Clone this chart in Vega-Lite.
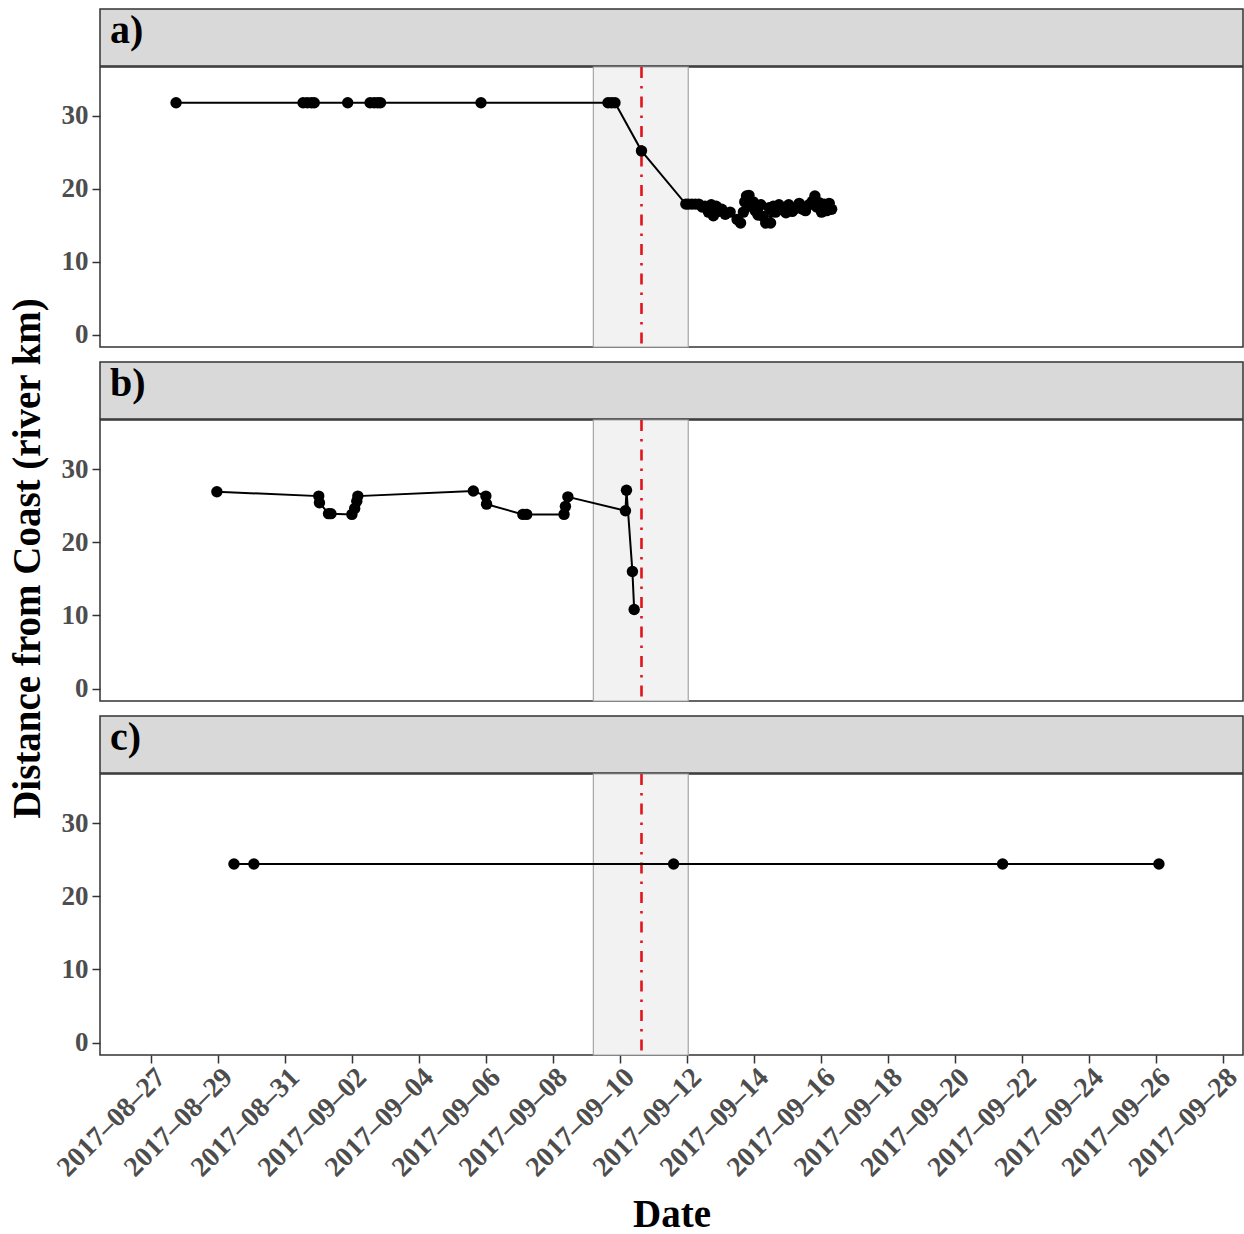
{
  "$schema": "https://vega.github.io/schema/vega-lite/v6.json",
  "padding": {"left": 8, "top": 8, "right": 4, "bottom": 0},
  "spacing": 0,
  "config": {
    "font": "Liberation Serif",
    "view": {"stroke": "#333333", "strokeWidth": 1.5},
    "axis": {"grid": false, "domain": false, "tickColor": "#333333", "tickWidth": 1.5, "tickSize": 8,
      "labelFont": "Liberation Serif", "labelFontWeight": "bold", "labelFontSize": 27, "labelColor": "#4d4d4d", "labelPadding": 4,
      "titleFont": "Liberation Serif", "titleFontWeight": "bold", "titleFontSize": 39, "titleColor": "#000000"},
    "title": {"font": "Liberation Serif", "fontWeight": "bold", "fontSize": 40, "color": "#000000", "anchor": "start", "offset": -42, "dx": 10, "baseline": "alphabetic"}
  },
  "datasets": {
    "storm": [{"start": "2017-09-09T05:00:00", "end": "2017-09-12T01:00:00", "landfall": "2017-09-10T15:30:00"}],
    "pa": [
      {"t":"2017-08-27T18:00:00","km":31.8},
      {"t":"2017-08-31T13:00:00","km":31.8},
      {"t":"2017-08-31T16:00:00","km":31.8},
      {"t":"2017-08-31T19:00:00","km":31.8},
      {"t":"2017-08-31T21:00:00","km":31.8},
      {"t":"2017-09-01T21:00:00","km":31.8},
      {"t":"2017-09-02T13:00:00","km":31.8},
      {"t":"2017-09-02T16:00:00","km":31.8},
      {"t":"2017-09-02T18:30:00","km":31.8},
      {"t":"2017-09-02T20:30:00","km":31.8},
      {"t":"2017-09-05T20:30:00","km":31.8},
      {"t":"2017-09-09T15:30:00","km":31.8},
      {"t":"2017-09-09T18:00:00","km":31.8},
      {"t":"2017-09-09T20:30:00","km":31.8},
      {"t":"2017-09-10T15:30:00","km":25.2},
      {"t":"2017-09-11T23:15:00","km":17.9},
      {"t":"2017-09-12T01:00:00","km":17.9},
      {"t":"2017-09-12T03:30:00","km":17.9},
      {"t":"2017-09-12T06:00:00","km":17.9},
      {"t":"2017-09-12T08:30:00","km":17.9},
      {"t":"2017-09-12T11:00:00","km":17.5},
      {"t":"2017-09-12T13:00:00","km":17.6},
      {"t":"2017-09-12T15:30:00","km":16.8},
      {"t":"2017-09-12T17:30:00","km":17.8},
      {"t":"2017-09-12T19:00:00","km":16.3},
      {"t":"2017-09-12T21:00:00","km":17.6},
      {"t":"2017-09-12T23:00:00","km":16.9},
      {"t":"2017-09-13T01:00:00","km":17.2},
      {"t":"2017-09-13T03:30:00","km":16.5},
      {"t":"2017-09-13T07:00:00","km":16.8},
      {"t":"2017-09-13T12:00:00","km":15.8},
      {"t":"2017-09-13T14:30:00","km":15.3},
      {"t":"2017-09-13T16:30:00","km":16.8},
      {"t":"2017-09-13T17:30:00","km":18.2},
      {"t":"2017-09-13T18:45:00","km":19.0},
      {"t":"2017-09-13T20:30:00","km":19.1},
      {"t":"2017-09-13T21:30:00","km":17.6},
      {"t":"2017-09-13T23:30:00","km":18.2},
      {"t":"2017-09-14T01:00:00","km":17.0},
      {"t":"2017-09-14T03:00:00","km":16.4},
      {"t":"2017-09-14T05:00:00","km":17.8},
      {"t":"2017-09-14T06:45:00","km":16.2},
      {"t":"2017-09-14T08:30:00","km":15.3},
      {"t":"2017-09-14T11:00:00","km":17.4},
      {"t":"2017-09-14T12:00:00","km":15.3},
      {"t":"2017-09-14T14:00:00","km":17.6},
      {"t":"2017-09-14T15:30:00","km":16.8},
      {"t":"2017-09-14T18:00:00","km":17.8},
      {"t":"2017-09-14T20:30:00","km":17.1},
      {"t":"2017-09-14T23:00:00","km":16.7},
      {"t":"2017-09-15T01:00:00","km":17.8},
      {"t":"2017-09-15T03:30:00","km":16.9},
      {"t":"2017-09-15T06:00:00","km":17.3},
      {"t":"2017-09-15T08:30:00","km":18.0},
      {"t":"2017-09-15T11:00:00","km":17.2},
      {"t":"2017-09-15T13:00:00","km":17.0},
      {"t":"2017-09-15T15:30:00","km":17.8},
      {"t":"2017-09-15T18:00:00","km":18.3},
      {"t":"2017-09-15T19:45:00","km":19.0},
      {"t":"2017-09-15T21:00:00","km":17.5},
      {"t":"2017-09-15T22:45:00","km":18.1},
      {"t":"2017-09-16T00:30:00","km":16.8},
      {"t":"2017-09-16T02:30:00","km":17.9},
      {"t":"2017-09-16T04:15:00","km":17.0},
      {"t":"2017-09-16T06:00:00","km":18.0},
      {"t":"2017-09-16T07:45:00","km":17.2}
    ],
    "pb": [
      {"t":"2017-08-28T23:15:00","km":26.9},
      {"t":"2017-09-01T00:15:00","km":26.3},
      {"t":"2017-09-01T00:45:00","km":25.4},
      {"t":"2017-09-01T07:15:00","km":23.9},
      {"t":"2017-09-01T09:00:00","km":23.9},
      {"t":"2017-09-02T00:00:00","km":23.8},
      {"t":"2017-09-02T02:00:00","km":24.6},
      {"t":"2017-09-02T03:30:00","km":25.6},
      {"t":"2017-09-02T04:15:00","km":26.3},
      {"t":"2017-09-05T15:00:00","km":27.0},
      {"t":"2017-09-06T00:00:00","km":26.3},
      {"t":"2017-09-06T00:30:00","km":25.2},
      {"t":"2017-09-07T02:30:00","km":23.8},
      {"t":"2017-09-07T05:15:00","km":23.8},
      {"t":"2017-09-08T08:00:00","km":23.8},
      {"t":"2017-09-08T09:00:00","km":24.9},
      {"t":"2017-09-08T10:45:00","km":26.2},
      {"t":"2017-09-10T04:00:00","km":24.3},
      {"t":"2017-09-10T04:45:00","km":27.1},
      {"t":"2017-09-10T09:00:00","km":16.0},
      {"t":"2017-09-10T10:15:00","km":10.8}
    ],
    "pc": [
      {"t":"2017-08-29T11:30:00","km":24.4},
      {"t":"2017-08-30T01:45:00","km":24.4},
      {"t":"2017-09-11T14:30:00","km":24.4},
      {"t":"2017-09-21T10:15:00","km":24.4},
      {"t":"2017-09-26T02:15:00","km":24.4}
    ]
  },
  "hconcat": [
    {"width": 1, "height": 1098, "view": {"stroke": null},
     "data": {"values": [{"v": 0}]},
     "mark": {"type": "point", "opacity": 0},
     "encoding": {"y": {"field": "v", "type": "quantitative", "axis": {"title": "Distance from Coast (river km)", "labels": false, "ticks": false, "domain": false, "titlePadding": 0}}}},
    {
      "spacing": 11,
      "vconcat": [
        {
          "spacing": -3,
          "vconcat": [
            {"width": 1143, "height": 57, "title": "a)", "view": {"fill": "#d9d9d9", "stroke": "#333333", "strokeWidth": 1.5}, "data": {"values": [{}]},
             "mark": {"type": "rect", "opacity": 0}},
            {"width": 1143, "height": 280,
             "layer": [
               {"data": {"name": "storm"}, "mark": {"type": "rect", "fill": "#f2f2f2", "stroke": "#a6a6a6", "strokeWidth": 1.2},
                "encoding": {"x": {"field": "start", "type": "temporal", "scale": {"domain": [{"year":2017,"month":8,"date":25,"hours":11,"minutes":30},{"year":2017,"month":9,"date":28,"hours":14,"minutes":30}]}, "axis": null}, "x2": {"field": "end"}}},
               {"data": {"name": "storm"}, "mark": {"type": "rule", "color": "#e0141e", "strokeWidth": 2.6, "strokeDash": [11, 8, 2.5, 8]},
                "encoding": {"x": {"field": "landfall", "type": "temporal"}}},
               {"data": {"name": "pa"}, "mark": {"type": "line", "color": "#000000", "strokeWidth": 2},
                "encoding": {"x": {"field": "t", "type": "temporal"}, "y": {"field": "km", "type": "quantitative", "scale": {"domain": [-1.7, 36.7], "nice": false, "zero": false}, "axis": {"values": [0, 10, 20, 30], "title": null}}}},
               {"data": {"name": "pa"}, "mark": {"type": "point", "filled": true, "color": "#000000", "size": 130, "opacity": 1},
                "encoding": {"x": {"field": "t", "type": "temporal"}, "y": {"field": "km", "type": "quantitative"}}}
             ]}
          ]
        },
        {
          "spacing": -3,
          "vconcat": [
            {"width": 1143, "height": 57, "title": "b)", "view": {"fill": "#d9d9d9", "stroke": "#333333", "strokeWidth": 1.5}, "data": {"values": [{}]},
             "mark": {"type": "rect", "opacity": 0}},
            {"width": 1143, "height": 281,
             "layer": [
               {"data": {"name": "storm"}, "mark": {"type": "rect", "fill": "#f2f2f2", "stroke": "#a6a6a6", "strokeWidth": 1.2},
                "encoding": {"x": {"field": "start", "type": "temporal", "scale": {"domain": [{"year":2017,"month":8,"date":25,"hours":11,"minutes":30},{"year":2017,"month":9,"date":28,"hours":14,"minutes":30}]}, "axis": null}, "x2": {"field": "end"}}},
               {"data": {"name": "storm"}, "mark": {"type": "rule", "color": "#e0141e", "strokeWidth": 2.6, "strokeDash": [11, 8, 2.5, 8]},
                "encoding": {"x": {"field": "landfall", "type": "temporal"}}},
               {"data": {"name": "pb"}, "mark": {"type": "line", "color": "#000000", "strokeWidth": 2},
                "encoding": {"x": {"field": "t", "type": "temporal"}, "y": {"field": "km", "type": "quantitative", "scale": {"domain": [-1.7, 36.7], "nice": false, "zero": false}, "axis": {"values": [0, 10, 20, 30], "title": null}}}},
               {"data": {"name": "pb"}, "mark": {"type": "point", "filled": true, "color": "#000000", "size": 130, "opacity": 1},
                "encoding": {"x": {"field": "t", "type": "temporal"}, "y": {"field": "km", "type": "quantitative"}}}
             ]}
          ]
        },
        {
          "spacing": -3,
          "vconcat": [
            {"width": 1143, "height": 57, "title": "c)", "view": {"fill": "#d9d9d9", "stroke": "#333333", "strokeWidth": 1.5}, "data": {"values": [{}]},
             "mark": {"type": "rect", "opacity": 0}},
            {"width": 1143, "height": 281,
             "layer": [
               {"data": {"name": "storm"}, "mark": {"type": "rect", "fill": "#f2f2f2", "stroke": "#a6a6a6", "strokeWidth": 1.2},
                "encoding": {"x": {"field": "start", "type": "temporal", "scale": {"domain": [{"year":2017,"month":8,"date":25,"hours":11,"minutes":30},{"year":2017,"month":9,"date":28,"hours":14,"minutes":30}]},
                  "axis": {"title": "Date", "titlePadding": 14, "labelPadding": 0, "labelFontSize": 28, "format": "%Y–%m–%d", "labelAngle": -45, "labelAlign": "right", "labelBaseline": "top", "labelOverlap": false, "labelFlush": false, "labelBound": false,
                    "values": [{"year":2017,"month":8,"date":27},{"year":2017,"month":8,"date":29},{"year":2017,"month":8,"date":31},{"year":2017,"month":9,"date":2},{"year":2017,"month":9,"date":4},{"year":2017,"month":9,"date":6},{"year":2017,"month":9,"date":8},{"year":2017,"month":9,"date":10},{"year":2017,"month":9,"date":12},{"year":2017,"month":9,"date":14},{"year":2017,"month":9,"date":16},{"year":2017,"month":9,"date":18},{"year":2017,"month":9,"date":20},{"year":2017,"month":9,"date":22},{"year":2017,"month":9,"date":24},{"year":2017,"month":9,"date":26},{"year":2017,"month":9,"date":28}]}},
                 "x2": {"field": "end"}}},
               {"data": {"name": "storm"}, "mark": {"type": "rule", "color": "#e0141e", "strokeWidth": 2.6, "strokeDash": [11, 8, 2.5, 8]},
                "encoding": {"x": {"field": "landfall", "type": "temporal"}}},
               {"data": {"name": "pc"}, "mark": {"type": "line", "color": "#000000", "strokeWidth": 2},
                "encoding": {"x": {"field": "t", "type": "temporal"}, "y": {"field": "km", "type": "quantitative", "scale": {"domain": [-1.7, 36.7], "nice": false, "zero": false}, "axis": {"values": [0, 10, 20, 30], "title": null}}}},
               {"data": {"name": "pc"}, "mark": {"type": "point", "filled": true, "color": "#000000", "size": 130, "opacity": 1},
                "encoding": {"x": {"field": "t", "type": "temporal"}, "y": {"field": "km", "type": "quantitative"}}}
             ]}
          ]
        }
      ]
    }
  ]
}
